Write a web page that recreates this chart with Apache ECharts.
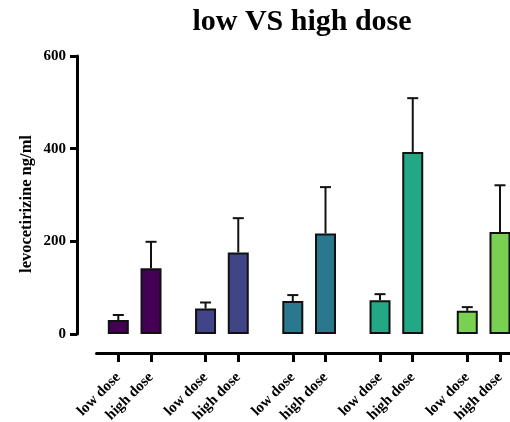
<!DOCTYPE html>
<html>
<head>
<meta charset="utf-8">
<script src="https://cdn.jsdelivr.net/npm/echarts@6/dist/echarts.min.js"></script>
<style>html,body{margin:0;padding:0;background:#fff}#c{width:510px;height:422px}</style>
</head>
<body>
<div id="c"></div>
<script>
const titleText = 'low VS high dose';
const yAxisName = 'levocetirizine ng/ml';
const doseLabels = ['low dose', 'high dose'];
const lowMeans = [30, 55, 71, 73, 50];
const lowUpper = [41, 68, 84, 86, 58];
const highMeans = [142, 176, 217, 393, 220];
const highUpper = [199, 250, 317, 509, 321];
const groupColors = ['#440154', '#414487', '#2A788E', '#22A884', '#7AD151'];
const yTicks = [0, 200, 400, 600];

// category slots: 2 leading blanks, then per group: low, 2 blanks, high, 4 blanks
const LEAD = 2, PER = 8, HIGH_OFF = 3;
const categories = [];
const barData = [];
const errData = [];
for (let i = 0; i < LEAD; i++) { categories.push(''); barData.push('-'); }
for (let g = 0; g < lowMeans.length; g++) {
  for (let s = 0; s < PER; s++) {
    const idx = categories.length;
    if (s === 0) {
      categories.push(doseLabels[0]);
      barData.push({ value: lowMeans[g], itemStyle: { color: groupColors[g] } });
      errData.push([idx, lowMeans[g], lowUpper[g]]);
    } else if (s === HIGH_OFF) {
      categories.push(doseLabels[1]);
      barData.push({ value: highMeans[g], itemStyle: { color: groupColors[g] } });
      errData.push([idx, highMeans[g], highUpper[g]]);
    } else {
      categories.push('');
      barData.push('-');
    }
  }
}

const FONT = 'Liberation Serif';
const chart = echarts.init(document.getElementById('c'), null, { renderer: 'canvas' });
chart.setOption({
  animation: false,
  backgroundColor: '#fff',
  title: {
    text: titleText, left: 297, top: 2, textAlign: 'center',
    textStyle: { fontFamily: FONT, fontWeight: 'bold', fontSize: 30, color: '#000' }
  },
  grid: { left: 96.5, right: -33.6, top: 56, bottom: 88, containLabel: false, outerBoundsMode: 'none' },
  xAxis: {
    type: 'category', data: categories, boundaryGap: false, offset: 19,
    axisLine: { onZero: false, lineStyle: { color: '#000', width: 3 } },
    axisTick: { show: true, inside: false, alignWithLabel: true, length: 9, lineStyle: { color: '#000', width: 3 },
      interval: (i, v) => v !== '' },
    axisLabel: { rotate: 45, margin: 22, color: '#000', fontFamily: FONT, fontWeight: 'bold', fontSize: 15,
      interval: (i, v) => v !== '' },
    splitLine: { show: false }
  },
  yAxis: {
    type: 'value', min: 0, max: 600, interval: 200, offset: 19.5,
    name: yAxisName, nameLocation: 'middle', nameGap: 42, nameMoveOverlap: false,
    nameTextStyle: { fontFamily: FONT, fontWeight: 'bold', fontSize: 16.5, color: '#000', padding: [0, 18, 0, 0] },
    axisLine: { show: true, lineStyle: { color: '#000', width: 3 } },
    axisTick: { show: true, length: 7, lineStyle: { color: '#000', width: 3 } },
    axisLabel: { color: '#000', fontFamily: FONT, fontWeight: 'bold', fontSize: 15, margin: 11,
      customValues: yTicks },
    splitLine: { show: false }
  },
  series: [
    {
      type: 'bar', data: barData, barWidth: 21,
      itemStyle: { borderColor: '#111', borderWidth: 2 }, z: 3
    },
    {
      type: 'custom', data: errData, z: 2,
      renderItem: (params, api) => {
        const x = api.value(0);
        const base = api.coord([x, api.value(1)]);
        const top = api.coord([x, api.value(2)]);
        const hw = 5.5;
        return {
          type: 'group',
          children: [
            { type: 'line', shape: { x1: base[0], y1: base[1], x2: top[0], y2: top[1] }, style: { stroke: '#111', lineWidth: 2 } },
            { type: 'line', shape: { x1: top[0] - hw, y1: top[1], x2: top[0] + hw, y2: top[1] }, style: { stroke: '#111', lineWidth: 2 } }
          ]
        };
      }
    }
  ]
});
</script>
</body>
</html>
